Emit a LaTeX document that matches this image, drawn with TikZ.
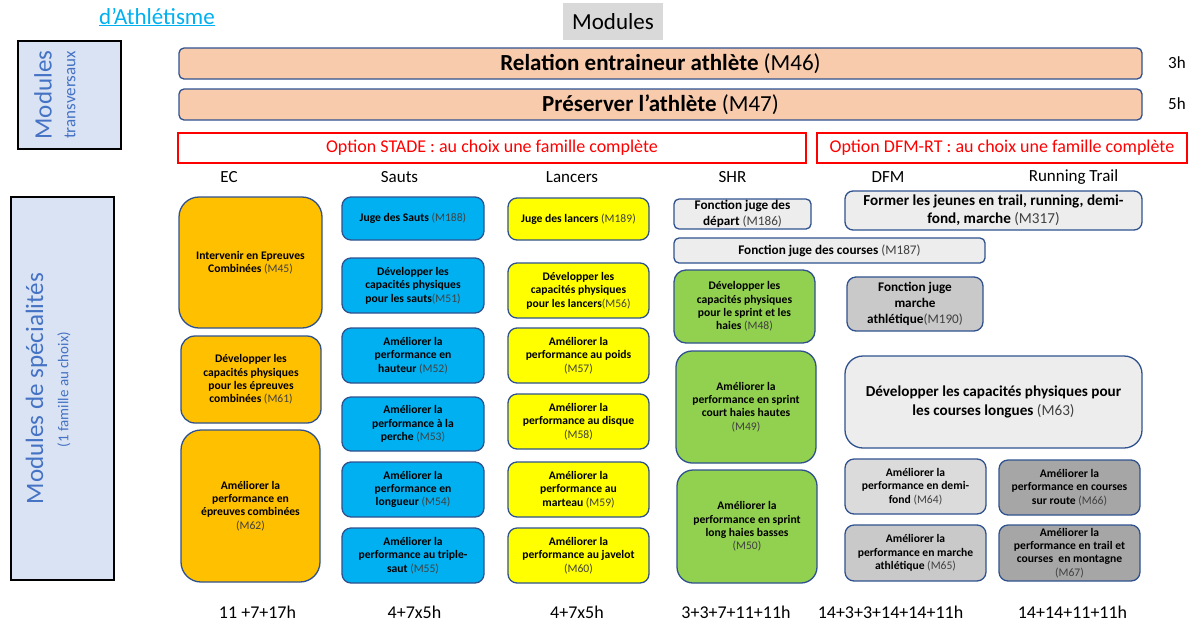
\documentclass[tikz,border=0pt]{standalone}
\usepackage{fontspec}
\setmainfont{Carlito}
\definecolor{bordblue}{HTML}{2F528F}
\definecolor{ecorange}{HTML}{FFC000}
\definecolor{sautsblue}{HTML}{00B0F0}
\definecolor{lancyellow}{HTML}{FFFF00}
\definecolor{shrgreen}{HTML}{92D050}
\definecolor{graya}{HTML}{EDEDED}
\definecolor{grayb}{HTML}{DBDBDB}
\definecolor{grayc}{HTML}{C9C9C9}
\definecolor{grayd}{HTML}{A6A6A6}
\definecolor{peach}{HTML}{F8CBAD}
\definecolor{sidebg}{HTML}{DAE3F3}
\definecolor{sidetext}{HTML}{4472C4}
\definecolor{headgray}{HTML}{D9D9D9}
\definecolor{linkblue}{HTML}{00B0F0}
\definecolor{refgray}{HTML}{404040}
\newcommand{\mref}[1]{{\mdseries\color{refgray}(#1)}}

\begin{document}
\begin{tikzpicture}[x=1pt, y=-1pt,
    box/.style={draw=bordblue, line width=1.3pt, align=center, inner sep=0.5pt,
                font=\fontsize{11.6}{13.4}\selectfont\bfseries},
    ecbox/.style={box, fill=ecorange, rounded corners=20pt},
    sautbox/.style={box, fill=sautsblue, rounded corners=9pt},
    lancbox/.style={box, fill=lancyellow, rounded corners=9pt},
    shrbox/.style={box, fill=shrgreen, rounded corners=16pt},
    bar/.style={draw=bordblue, line width=1.3pt, fill=peach, rounded corners=5pt,
                minimum width=963, minimum height=31, inner sep=0pt,
                font=\fontsize{23}{26}\selectfont},
    optbox/.style={draw=red, line width=1.2pt, minimum height=30, text=red,
                   font=\fontsize{18}{21}\selectfont},
    sidebox/.style={draw=black, line width=1.5pt, fill=sidebg, minimum width=103},
    colhead/.style={font=\fontsize{17}{20}\selectfont},
    hours/.style={font=\fontsize{18}{21}\selectfont},
]
\useasboundingbox (0,0) rectangle (1194,622);

% titre
\node[text=linkblue, font=\fontsize{23}{26}\selectfont] (titre) at (157,17) {\underline{d'Athlétisme}};
\node[fill=headgray, minimum width=100, minimum height=37, inner sep=0pt,
      font=\fontsize{23}{26}\selectfont] (modhead) at (613,21.5) {Modules};

% modules transversaux
\node[sidebox, minimum height=108] (transbox) at (69.5,95) {};
\node[rotate=90, text=sidetext, font=\fontsize{25}{28}\selectfont] (transtitle) at (43,95) {Modules};
\node[rotate=90, text=sidetext, font=\fontsize{17}{19}\selectfont] (transsub) at (70,95) {transversaux};

\node[bar] (m46) at (660.5,63.5) {\textbf{Relation entraineur athlète} (M46)};
\node[bar] (m47) at (660.5,104.5) {\textbf{Préserver l'athlète} (M47)};
\node[colhead] (h46) at (1177,63) {3h};
\node[colhead] (h47) at (1177,104) {5h};

% options
\node[optbox, minimum width=628] (stade) at (492,148) {Option STADE : au choix une famille complète};
\node[optbox, minimum width=370] (dfmrt) at (1002,148) {Option DFM-RT : au choix une famille complète};

\node[colhead] (hec) at (229,177) {EC};
\node[colhead] (hsauts) at (399.5,177) {Sauts};
\node[colhead] (hlanc) at (572,177) {Lancers};
\node[colhead] (hshr) at (732.5,177) {SHR};
\node[colhead] (hdfm) at (888,177) {DFM};
\node[colhead] (hrun) at (1073.5,177) {Running Trail};

% modules de specialites
\node[sidebox, minimum height=383] (specbox) at (62.5,388.5) {};
\node[rotate=90, text=sidetext, font=\fontsize{25}{28}\selectfont] (spectitle) at (36.5,388.5) {Modules de spécialités};
\node[rotate=90, text=sidetext, font=\fontsize{15}{17}\selectfont] (specsub) at (64,389.5) {(1 famille au choix)};

% EC
\node[ecbox, minimum width=143, minimum height=131] (m45) at (250.5,262.5) {Intervenir en Epreuves\\Combinées \mref{M45}};
\node[ecbox, rounded corners=14pt, minimum width=140, minimum height=87] (m61) at (251,379.5) {Développer les\\capacités physiques\\pour les épreuves\\combinées \mref{M61}};
\node[ecbox, minimum width=139, minimum height=152] (m62) at (250.5,506) {Améliorer la\\performance en\\épreuves combinées\\\mref{M62}};

% Sauts
\node[sautbox, minimum width=142, minimum height=43] (m188) at (413,218.5) {Juge des Sauts \mref{M188}};
\node[sautbox, minimum width=142, minimum height=55] (m51) at (413,285.5) {Développer les\\capacités physiques\\pour les sauts\mref{M51}};
\node[sautbox, minimum width=142, minimum height=55] (m52) at (413,355.5) {Améliorer la\\performance en\\hauteur \mref{M52}};
\node[sautbox, minimum width=142, minimum height=54] (m53) at (413,424) {Améliorer la\\performance à la\\perche \mref{M53}};
\node[sautbox, minimum width=142, minimum height=55] (m54) at (413,489.5) {Améliorer la\\performance en\\longueur \mref{M54}};
\node[sautbox, minimum width=142, minimum height=55] (m55) at (413,555.5) {Améliorer la\\performance au triple-\\saut \mref{M55}};

% Lancers
\node[lancbox, minimum width=141, minimum height=42] (m189) at (578.5,219) {Juge des lancers \mref{M189}};
\node[lancbox, minimum width=141, minimum height=55] (m56) at (578.5,290.5) {Développer les\\capacités physiques\\pour les lancers\mref{M56}};
\node[lancbox, minimum width=141, minimum height=55] (m57) at (578.5,355.5) {Améliorer la\\performance au poids\\\mref{M57}};
\node[lancbox, minimum width=141, minimum height=55] (m58) at (578.5,421.5) {Améliorer la\\performance au disque\\\mref{M58}};
\node[lancbox, minimum width=141, minimum height=55] (m59) at (578.5,489.5) {Améliorer la\\performance au\\marteau \mref{M59}};
\node[lancbox, minimum width=141, minimum height=55] (m60) at (578.5,555.5) {Améliorer la\\performance au javelot\\\mref{M60}};

% SHR
\node[box, fill=graya, rounded corners=5pt, minimum width=137, minimum height=30, inner sep=0pt,
      font=\fontsize{13.2}{15.5}\selectfont\bfseries] (m186) at (742.5,214) {Fonction juge des\\départ \mref{M186}};
\node[box, fill=graya, rounded corners=5pt, minimum width=311, minimum height=25, inner sep=0pt,
      font=\fontsize{13.2}{15.5}\selectfont\bfseries] (m187) at (829.5,250.5) {Fonction juge des courses \mref{M187}};
\node[shrbox, rounded corners=12pt, minimum width=141, minimum height=73] (m48) at (744.5,306.5) {Développer les\\capacités physiques\\pour le sprint et les\\haies \mref{M48}};
\node[shrbox, minimum width=140, minimum height=112] (m49) at (746,407) {Améliorer la\\performance en sprint\\court haies hautes\\\mref{M49}};
\node[shrbox, minimum width=140, minimum height=113] (m50) at (747,526.5) {Améliorer la\\performance en sprint\\long haies basses\\\mref{M50}};

% DFM et Running Trail
\node[box, fill=graya, rounded corners=8pt, minimum width=297, minimum height=39, inner sep=0pt,
      font=\fontsize{15.2}{18.3}\selectfont\bfseries] (m317) at (993.5,210.5) {Former les jeunes en trail, running, demi-\\fond, marche \mref{M317}};
\node[box, fill=grayc, rounded corners=9pt, minimum width=136, minimum height=54, inner sep=0pt,
      font=\fontsize{13.2}{16}\selectfont\bfseries] (m190) at (915,304) {Fonction juge\\marche\\athlétique\mref{M190}};
\node[box, fill=graya, rounded corners=18pt, minimum width=297, minimum height=92,
      font=\fontsize{15.2}{18.3}\selectfont\bfseries] (m63) at (993.5,402) {Développer les capacités physiques pour\\les courses longues \mref{M63}};
\node[box, fill=grayb, rounded corners=9pt, minimum width=141, minimum height=55] (m64) at (915.5,486.5) {Améliorer la\\performance en demi-\\fond \mref{M64}};
\node[box, fill=grayd, rounded corners=9pt, minimum width=141, minimum height=55] (m66) at (1069.5,487.5) {Améliorer la\\performance en courses\\sur route \mref{M66}};
\node[box, fill=grayc, rounded corners=9pt, minimum width=141, minimum height=56] (m65) at (915.5,553) {Améliorer la\\performance en marche\\athlétique \mref{M65}};
\node[box, fill=grayd, rounded corners=9pt, minimum width=141, minimum height=56, inner sep=0pt] (m67) at (1069.5,553) {Améliorer la\\performance en trail et\\courses\ \ en montagne\\\mref{M67}};

% volumes horaires
\node[hours] (tec) at (257.5,612) {11 +7+17h};
\node[hours] (tsauts) at (414.5,612) {4+7x5h};
\node[hours] (tlanc) at (577,612) {4+7x5h};
\node[hours] (tshr) at (736,612) {3+3+7+11+11h};
\node[hours] (tdfm) at (890.5,612) {14+3+3+14+14+11h};
\node[hours] (trun) at (1072.5,612) {14+14+11+11h};
\end{tikzpicture}
\end{document}
